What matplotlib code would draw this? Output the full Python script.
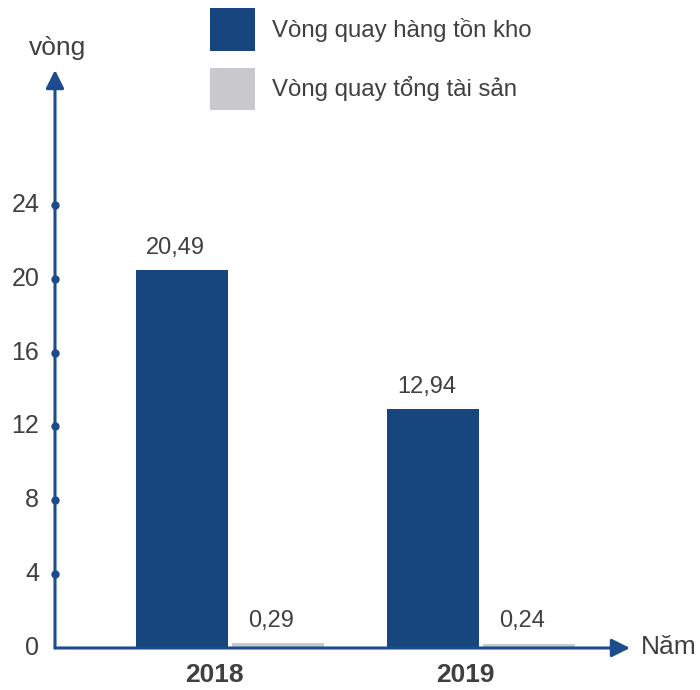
import numpy as np
from matplotlib import pyplot as plt

plt.rcParams['font.family'] = ['Liberation Sans', 'DejaVu Sans']

years = ['2018', '2019']
hang_ton_kho = [20.49, 12.94]
tong_tai_san = [0.29, 0.24]
series_names = ['Vòng quay hàng tồn kho', 'Vòng quay tổng tài sản']
yticks = [0, 4, 8, 12, 16, 20, 24]

dark = '#17467f'
grey = '#c9c8ca'
axis_c = '#1d4c8c'
text_c = '#404040'

fig = plt.figure(figsize=(7, 6.9), dpi=100)
ax = fig.add_axes([55 / 700, 42 / 690, 575 / 700, 578 / 690])
ax.set_xlim(-0.697, 1.594)
ax.set_ylim(0, 31.3)

x = np.arange(len(years))
w = 0.366
b1 = ax.bar(x - 0.19, hang_ton_kho, w, color=dark, label=series_names[0])
b2 = ax.bar(x + 0.19, tong_tai_san, w, color=grey, label=series_names[1])

# nhãn giá trị dùng dấu phẩy thập phân
for bars, vals in ((b1, hang_ton_kho), (b2, tong_tai_san)):
    for r, v in zip(bars, vals):
        ax.annotate(f'{v:.2f}'.replace('.', ','),
                    (r.get_x() + r.get_width() / 2, v),
                    xytext=(-5, 8), textcoords='offset points',
                    ha='center', va='bottom', fontsize=17, color=text_c)

for s in ax.spines.values():
    s.set_visible(False)
ax.set_xticks([])
ax.set_yticks([])

# trục có mũi tên
arrow = dict(arrowstyle='-|>,head_length=1.1,head_width=0.55', color=axis_c, lw=2.2,
             shrinkA=0, shrinkB=0)
ax.annotate('', xy=(0, 1.0), xytext=(0, 0), xycoords='axes fraction', arrowprops=arrow,
            annotation_clip=False)
ax.annotate('', xy=(1.0, 0), xytext=(0, 0), xycoords='axes fraction', arrowprops=arrow,
            annotation_clip=False)

# vạch chia dạng chấm trên trục tung
ax.plot([-0.697] * (len(yticks) - 1), yticks[1:], 'o', color=axis_c, ms=5, clip_on=False)
for t in yticks:
    ax.text(-0.76, t, str(t), ha='right', va='center', fontsize=18, color=text_c)

for xi, yr in zip(x, years):
    ax.text(xi - 0.06, -0.8, yr, ha='center', va='top', fontsize=19, fontweight='bold',
            color=text_c)

fig.text(58 / 700, 1 - 48 / 690, 'vòng', ha='center', va='center', fontsize=19, color=text_c)
fig.text(641 / 700, 1 - 647 / 690, 'Năm', ha='left', va='center', fontsize=19, color=text_c)

fig.legend(handles=[b1, b2], loc='upper left', bbox_to_anchor=(210 / 700, 1 - 8 / 690),
           frameon=False, fontsize=17.3, handlelength=1.87, handleheight=2.35,
           handletextpad=0.71, labelspacing=0.71, borderpad=0, borderaxespad=0,
           labelcolor=text_c)

fig.savefig('out.png', dpi=100)
